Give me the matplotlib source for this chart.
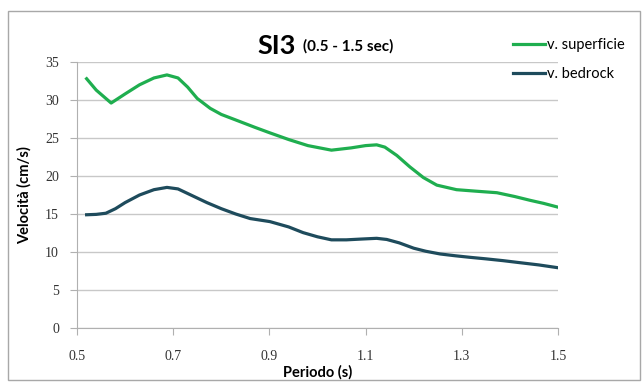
import matplotlib
matplotlib.use("Agg")
import matplotlib.pyplot as plt
from matplotlib.patches import Rectangle

# periodo (s) and velocity values
periodo_sup = [0.52, 0.54, 0.571, 0.60, 0.63, 0.66, 0.687, 0.71, 0.73, 0.75, 0.777,
               0.80, 0.833, 0.87, 0.90, 0.94, 0.98, 1.029, 1.07, 1.10, 1.123, 1.14,
               1.165, 1.192, 1.22, 1.248, 1.289, 1.33, 1.373, 1.41, 1.442, 1.47, 1.5]
v_superficie = [32.8, 31.3, 29.6, 30.8, 32.0, 32.9, 33.3, 32.9, 31.7, 30.2, 28.9,
                28.1, 27.3, 26.4, 25.7, 24.8, 24.0, 23.4, 23.7, 24.0, 24.1, 23.8,
                22.7, 21.2, 19.8, 18.8, 18.2, 18.0, 17.8, 17.3, 16.8, 16.4, 15.9]

periodo_bed = [0.52, 0.54, 0.56, 0.58, 0.60, 0.63, 0.66, 0.687, 0.71, 0.74, 0.77,
               0.80, 0.83, 0.86, 0.901, 0.94, 0.97, 1.0, 1.029, 1.06, 1.09, 1.123,
               1.144, 1.17, 1.2, 1.225, 1.255, 1.287, 1.317, 1.35, 1.386, 1.42, 1.46, 1.5]
v_bedrock = [14.9, 14.95, 15.1, 15.7, 16.5, 17.5, 18.2, 18.5, 18.3, 17.4, 16.5,
             15.7, 15.0, 14.4, 14.0, 13.3, 12.55, 12.0, 11.6, 11.6, 11.7, 11.8,
             11.65, 11.2, 10.5, 10.1, 9.74, 9.5, 9.3, 9.1, 8.86, 8.6, 8.3, 7.93]

x_ticks = [0.5, 0.7, 0.9, 1.1, 1.3, 1.5]
y_ticks = [0, 5, 10, 15, 20, 25, 30, 35]

plt.rcParams['font.family'] = ['Lato', 'DejaVu Sans']

fig = plt.figure(figsize=(6.43, 3.82), dpi=100)
ax = fig.add_axes([77 / 643, 1 - 328 / 382, 481 / 643, 266 / 382])

ax.plot(periodo_sup, v_superficie, color="#1fae4f", lw=2.3, label="v. superficie")
ax.plot(periodo_bed, v_bedrock, color="#1e4b5c", lw=2.3, label="v. bedrock")

ax.set_xlim(0.5, 1.5)
ax.set_ylim(0, 35)
ax.set_xticks(x_ticks)
ax.set_xticklabels([f"{v:.1f}" for v in x_ticks])
ax.set_yticks(y_ticks)
ax.grid(axis="y", color="#c8c8c8", lw=1)
ax.set_axisbelow(True)
for s in ["top", "right"]:
    ax.spines[s].set_visible(False)
for s in ["left", "bottom"]:
    ax.spines[s].set_color("#b0b0b0")
ax.tick_params(axis="both", colors="#b0b0b0", labelcolor="#333333",
               labelsize=10, length=5, direction="out")
ax.tick_params(axis="x", pad=11)
ax.tick_params(axis="y", pad=8)
for lbl in ax.get_xticklabels() + ax.get_yticklabels():
    lbl.set_family(["Liberation Serif", "DejaVu Serif"])

ax.set_xlabel("Periodo (s)", fontsize=10.5, fontweight="bold", labelpad=1)
ax.set_ylabel("Velocità (cm/s)", fontsize=10.5, fontweight="bold", labelpad=10)

fig.text(296 / 643, 1 - 46 / 382, "SI3", fontsize=19.5, fontweight="bold",
         ha="right", va="center")
fig.text(303 / 643, 1 - 46 / 382, "(0.5 - 1.5 sec)", fontsize=11, fontweight="bold",
         ha="left", va="center")

ax.legend(loc="upper left", bbox_to_anchor=(513 / 643, 1 - 38 / 382),
          bbox_transform=fig.transFigure, frameon=False,
          fontsize=10.5, handlelength=2.2, handletextpad=0.1, labelspacing=1.05,
          borderaxespad=0, borderpad=0)

fig.patches.append(Rectangle((8 / 643, 2 / 382), 632 / 643, 369 / 382,
                             transform=fig.transFigure, fill=False,
                             edgecolor="#a8a8a8", lw=1))

fig.savefig("out.png", dpi=100)
